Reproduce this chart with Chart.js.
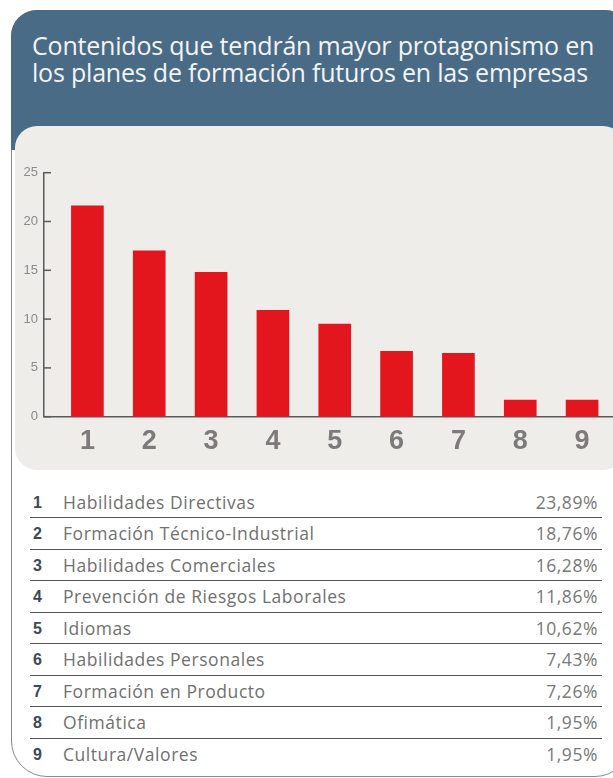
<!DOCTYPE html>
<html><head><meta charset="utf-8">
<script src="https://cdn.jsdelivr.net/npm/chart.js@4/dist/chart.umd.min.js"></script>
<style>
html,body{margin:0;padding:0;width:613px;height:778px;overflow:hidden;background:#fff;font-family:"Open Sans",sans-serif;}
#card{position:absolute;left:11px;top:10px;width:620px;height:767px;border:1.5px solid #8a8a8a;border-radius:26px 26px 36px 36px;box-sizing:border-box;}
#head{position:absolute;left:11px;top:10px;width:620px;height:140px;background:#4a6b86;border-radius:26px 26px 0 0;}
#title{position:absolute;left:32px;top:32px;color:#f2f5f8;font-size:25px;line-height:27px;white-space:nowrap;letter-spacing:-0.2px;}
#panel{position:absolute;left:15px;top:126px;width:610px;height:344px;background:#efedea;border-radius:22px;}
#chartbox{position:absolute;left:0;top:150px;width:613px;height:320px;}
.row{position:absolute;left:30px;width:572px;height:31.5px;box-sizing:border-box;border-bottom:1.5px solid #555;font-size:17.5px;line-height:31px;letter-spacing:0.55px;}
.row.last{border-bottom:none;}
.num{position:absolute;left:3px;top:0;font-weight:bold;color:#3e4856;font-family:"Liberation Sans",sans-serif;font-size:16px;letter-spacing:0;}
.lab{position:absolute;left:33px;top:0;color:#707070;}
.pct{position:absolute;right:4px;top:0;color:#787878;}
</style>
</head><body>
<div id="card"></div>
<div id="head"></div>
<div id="title">Contenidos que tendrán mayor protagonismo en<br>los planes de formación futuros en las empresas</div>
<div id="panel"></div>
<div id="chartbox"><canvas id="c" width="613" height="320"></canvas></div>
<div id="table"></div>
<script>
const categories = ['1','2','3','4','5','6','7','8','9'];
const barValues = [21.6, 17.0, 14.8, 10.9, 9.5, 6.7, 6.5, 1.7, 1.7];
const yTicks = [0, 5, 10, 15, 20, 25];
const rowLabels = ['Habilidades Directivas','Formación Técnico-Industrial','Habilidades Comerciales','Prevención de Riesgos Laborales','Idiomas','Habilidades Personales','Formación en Producto','Ofimática','Cultura/Valores'];
const percentLabels = ['23,89%','18,76%','16,28%','11,86%','10,62%','7,43%','7,26%','1,95%','1,95%'];

// table
const table = document.getElementById('table');
categories.forEach((c, i) => {
  const r = document.createElement('div');
  r.className = 'row' + (i === categories.length - 1 ? ' last' : '');
  r.style.top = (486.5 + 31.5 * i) + 'px';
  r.innerHTML = '<span class="num">' + c + '</span><span class="lab">' + rowLabels[i] + '</span><span class="pct">' + percentLabels[i] + '</span>';
  table.appendChild(r);
});

const innerTicks = {
  id: 'innerTicks',
  afterDraw(chart) {
    const ys = chart.scales.y, ctx = chart.ctx;
    ctx.save();
    ctx.strokeStyle = '#5a5a5a';
    ctx.lineWidth = 1.5;
    yTicks.forEach(v => {
      const py = ys.getPixelForValue(v);
      ctx.beginPath();
      ctx.moveTo(ys.right, py);
      ctx.lineTo(ys.right + 7, py);
      ctx.stroke();
    });
    ctx.restore();
  }
};

new Chart(document.getElementById('c'), {
  type: 'bar',
  data: {
    datasets: [{
      data: barValues.map((v, i) => ({x: i + 1, y: v})),
      backgroundColor: '#e3161e',
      barThickness: 32
    }]
  },
  options: {
    responsive: false,
    animation: false,
    devicePixelRatio: 1,
    layout: {padding: {top: 22.7, left: 0, right: 0, bottom: 0}},
    plugins: {legend: {display: false}, tooltip: {enabled: false}},
    scales: {
      x: {
        type: 'linear', min: 0.298, max: 9.5, offset: false,
        grid: {display: false, drawTicks: false},
        border: {display: true, color: '#5a5a5a', width: 1.5},
        afterBuildTicks: s => { s.ticks = categories.map((c, i) => ({value: i + 1})); },
        afterFit: s => { s.height = 53.3; },
        ticks: {
          callback: v => categories[v - 1],
          font: {size: 27, weight: 'bold', family: 'Liberation Sans'},
          color: '#7b7b7b', padding: 9, autoSkip: false, maxRotation: 0
        }
      },
      y: {
        min: 0, max: 25,
        afterBuildTicks: s => { s.ticks = yTicks.map(v => ({value: v})); },
        afterFit: s => { s.width = 44; },
        grid: {display: false, drawTicks: false},
        border: {display: true, color: '#5a5a5a', width: 1.5},
        ticks: {padding: 6, font: {size: 13, family: 'Liberation Sans'}, color: '#8a8a8a'}
      }
    }
  },
  plugins: [innerTicks]
});
</script>
</body></html>
